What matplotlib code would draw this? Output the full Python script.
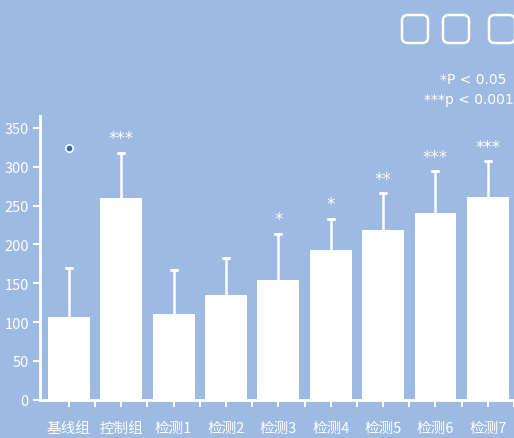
import matplotlib.pyplot as plt
from matplotlib.patches import FancyBboxPatch

plt.rcParams['font.family'] = ['Noto Sans CJK SC', 'DejaVu Sans']

# data
groups = ['基线组', '控制组', '检测1', '检测2', '检测3', '检测4', '检测5', '检测6', '检测7']
means = [107, 260, 110, 135, 154, 193, 218, 240, 261]
err_up = [63, 58, 57, 47, 60, 40, 48, 54, 46]
stars = ['', '***', '', '', '*', '*', '**', '***', '***']
dot_value = 324  # stray marker above the baseline group

bg = '#9cbae2'
fg = 'white'

fig = plt.figure(figsize=(5.14, 4.39), dpi=100, facecolor=bg)
ax = fig.add_axes([0.078, 0.087, 0.922, 0.646])
ax.set_facecolor(bg)

x = list(range(len(groups)))
ax.bar(x, means, width=0.8, color=fg, zorder=2)
ax.errorbar(x, [m + e / 2 for m, e in zip(means, err_up)], yerr=[e / 2 for e in err_up],
            fmt='none', ecolor=fg, elinewidth=1.8, capsize=0, zorder=1)
ax.errorbar(x, [m + e for m, e in zip(means, err_up)], yerr=0, fmt='none',
            ecolor=fg, elinewidth=0, capsize=3, capthick=1.8, zorder=1)

for xi, m, e, s in zip(x, means, err_up, stars):
    if s:
        ax.annotate(s, (xi, m + e), xytext=(0, 4), textcoords='offset points',
                    ha='center', va='bottom', color=fg, fontsize=12,
                    family='DejaVu Sans')

ax.scatter([0], [dot_value], s=28, color='#2a6db5', edgecolor=fg, linewidth=1.2, zorder=3)

ax.set_xlim(-0.55, 8.46)
ax.set_ylim(0, 365)
ax.set_yticks(range(0, 351, 50))
ax.set_xticks(x)
ax.set_xticklabels(groups)
ax.set_xticks([i + 0.5 for i in x], minor=True)

for side in ['top', 'right']:
    ax.spines[side].set_visible(False)
for side in ['left', 'bottom']:
    ax.spines[side].set_color(fg)
    ax.spines[side].set_linewidth(2)

ax.tick_params(axis='y', colors=fg, length=5, width=1.5, labelsize=10.5, pad=3)
ax.tick_params(axis='x', which='both', colors=fg, length=5, width=1.5, labelsize=10.5, pad=10)

# legend text top right
fig.text(0.985, 0.817, '*P < 0.05', color=fg, fontsize=10, ha='right', va='center',
         family='DejaVu Sans')
fig.text(1.0, 0.772, '***p < 0.001', color=fg, fontsize=10, ha='right', va='center',
         family='DejaVu Sans')

# three rounded boxes at top right
for bx in [402, 443, 489]:
    box = FancyBboxPatch((bx / 514, 1 - 44 / 439), 26 / 514, 28 / 439,
                         boxstyle='round,pad=0,rounding_size=0.012',
                         transform=fig.transFigure, fill=False,
                         edgecolor=fg, linewidth=1.8)
    fig.patches.append(box)

fig.savefig('out.png', dpi=100, facecolor=bg)
